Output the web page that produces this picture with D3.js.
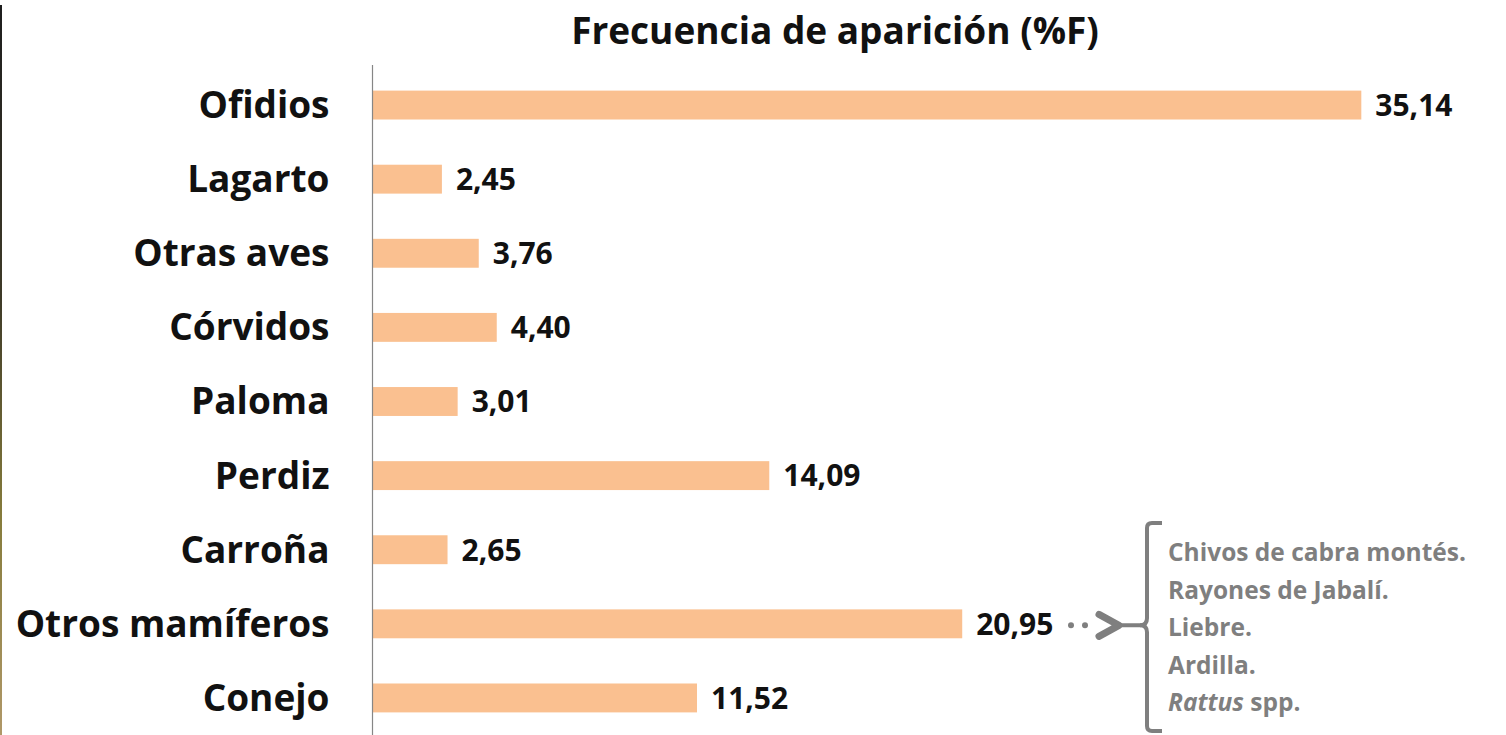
<!DOCTYPE html>
<html><head><meta charset="utf-8">
<script src="https://cdn.jsdelivr.net/npm/d3@7"></script>
<style>html,body{margin:0;padding:0;background:#fff;}svg{display:block;}</style>
</head><body>
<script>
const categories = ["Ofidios","Lagarto","Otras aves","Córvidos","Paloma","Perdiz","Carroña","Otros mamíferos","Conejo"];
const values = [35.14,2.45,3.76,4.40,3.01,14.09,2.65,20.95,11.52];
const valueLabels = ["35,14","2,45","3,76","4,40","3,01","14,09","2,65","20,95","11,52"];
const title = "Frecuencia de aparición (%F)";
const noteCategory = "Otros mamíferos";
const noteLines = [
  [{t:"Chivos de cabra montés.",i:false}],
  [{t:"Rayones de Jabalí.",i:false}],
  [{t:"Liebre.",i:false}],
  [{t:"Ardilla.",i:false}],
  [{t:"Rattus",i:true},{t:" spp.",i:false}]
];

const W=1506,H=735;
const FONT="'Open Sans', 'Noto Sans', sans-serif";
const svg=d3.select("body").append("svg").attr("width",W).attr("height",H);

// left decorative edge
const defs=svg.append("defs");
const g=defs.append("linearGradient").attr("id","edge").attr("x1",0).attr("y1",0).attr("x2",0).attr("y2",1);
g.append("stop").attr("offset","0%").attr("stop-color","#1e1e1e");
g.append("stop").attr("offset","40%").attr("stop-color","#3e3a28");
g.append("stop").attr("offset","70%").attr("stop-color","#867c3c");
g.append("stop").attr("offset","100%").attr("stop-color","#b09868");
svg.append("rect").attr("x",0).attr("y",5).attr("width",2).attr("height",H-5).attr("fill","url(#edge)");

const x=d3.scaleLinear().domain([0,40]).range([373,1498]);
const y=d3.scaleBand().domain(categories).range([68,735]).paddingInner(0.61).paddingOuter(0.305);

svg.append("text").attr("x",835).attr("y",44).attr("text-anchor","middle")
  .attr("font-family",FONT).attr("font-weight",700).attr("font-size",37).attr("fill","#111").text(title);

svg.selectAll("rect.bar").data(categories).join("rect").attr("class","bar")
  .attr("x",x(0)).attr("y",d=>y(d)).attr("height",y.bandwidth())
  .attr("width",(d,i)=>x(values[i])-x(0)).attr("fill","#FAC090");

// axis line
const yAxis=d3.axisLeft(y).tickSize(0).tickPadding(43);
const ax=svg.append("g").attr("transform",`translate(${x(0)-0.5},0)`).call(yAxis);
ax.select(".domain").attr("d",`M0,65V735`).attr("stroke","#868686").attr("stroke-width",1.2);
ax.selectAll(".tick text").attr("font-family",FONT).attr("font-weight",700).attr("font-size",37).attr("fill","#111").attr("dy","0.35em");

svg.selectAll("text.val").data(categories).join("text").attr("class","val")
  .attr("x",(d,i)=>x(values[i])+14).attr("y",d=>y(d)+y.bandwidth()/2).attr("dy","0.36em")
  .attr("font-family",FONT).attr("font-weight",700).attr("font-size",30).attr("fill","#111")
  .text((d,i)=>valueLabels[i]);

// annotation
const cy=y(noteCategory)+y.bandwidth()/2+1.5;
const gray="#7f7f7f";
const a=svg.append("g");
[1071,1085].forEach(px=>a.append("circle").attr("cx",px).attr("cy",cy).attr("r",3).attr("fill",gray));
a.append("path").attr("d",`M1099,${cy-11}L1119,${cy}L1099,${cy+11}`).attr("fill","none").attr("stroke",gray).attr("stroke-width",7).attr("stroke-linejoin","round").attr("stroke-linecap","round");
a.append("path").attr("d",`M1118,${cy}H1140Q1147,${cy} 1147,${cy-7}V528Q1147,523 1152,523H1162`).attr("fill","none").attr("stroke",gray).attr("stroke-width",4);
a.append("path").attr("d",`M1140,${cy}Q1147,${cy} 1147,${cy+7}V726Q1147,731 1152,731H1162`).attr("fill","none").attr("stroke",gray).attr("stroke-width",4);
const tx=1168, ty0=561, tstep=37.6;
noteLines.forEach((ln,k)=>{
  const t=a.append("text").attr("x",tx).attr("y",ty0+k*tstep).attr("font-family",FONT).attr("font-weight",700).attr("font-size",24.5).attr("fill",gray);
  ln.forEach(s=>t.append("tspan").attr("font-style",s.i?"italic":"normal").text(s.t));
});
</script>
</body></html>
